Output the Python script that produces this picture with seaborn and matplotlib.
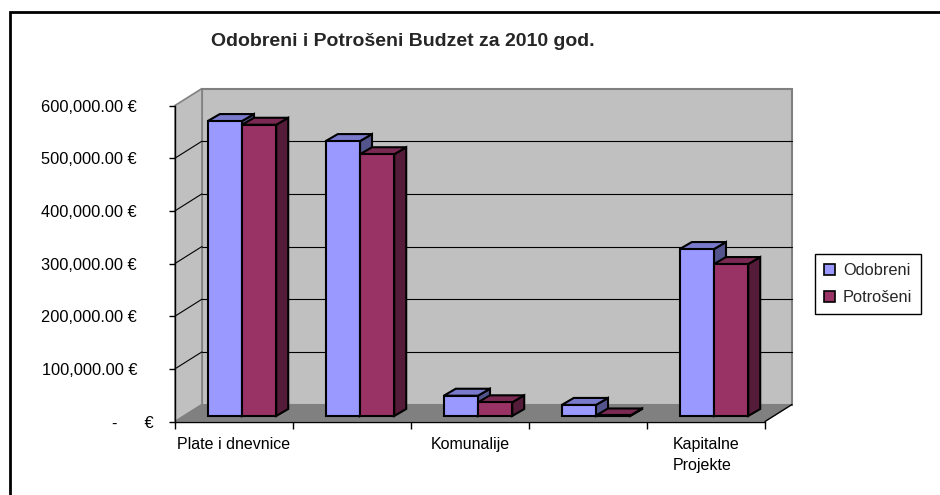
import numpy as np
import pandas as pd
import matplotlib
matplotlib.use("Agg")
import matplotlib.pyplot as plt
import seaborn as sns
from matplotlib.patches import Polygon, Rectangle, Patch
from matplotlib import transforms

# data
categories  = ["Plate i dnevnice", "cat2", "Komunalije", "cat4", "Kapitalne Projekte"]
tick_labels = ["Plate i dnevnice", "", "Komunalije", "", "Kapitalne\nProjekte"]
series      = ["Odobreni", "Potrošeni"]
odobreni    = [560000, 522000, 38500, 21000, 317000]
potroseni   = [553000, 497000, 26000, 1000, 288500]
yticks      = [0, 100000, 200000, 300000, 400000, 500000, 600000]
title       = "Odobreni i Potrošeni Budzet za 2010 god."

COLORS = ["#9999FF", "#993366"]
WALL, FLOOR, EDGE = "#C0C0C0", "#808080", "#808080"

sns.set_theme(style="ticks")
plt.rcParams["font.family"] = ["Liberation Sans", "DejaVu Sans"]

W, H = 940, 495
fig = plt.figure(figsize=(W / 100, H / 100), dpi=100, facecolor="white")
ax = fig.add_axes([175 / W, (H - 421.5) / H, 590 / W, 316 / H])

df = pd.DataFrame({
    "cat":    categories * 2,
    "series": [series[0]] * 5 + [series[1]] * 5,
    "value":  odobreni + potroseni,
})
sns.barplot(data=df, x="cat", y="value", hue="series", order=categories,
            hue_order=series, palette=COLORS, width=0.58, saturation=1,
            edgecolor="black", linewidth=1.5, legend=False, ax=ax)
bars = list(ax.patches)

ax.set_xlim(-0.5, len(categories) - 0.5)
ax.set_ylim(yticks[0], yticks[-1])
ax.set_xlabel(""); ax.set_ylabel("")
ax.patch.set_visible(False)

# pixel offsets -> data units (for the fake 3D depth)
ux = (len(categories)) / ax.bbox.width
uy = (yticks[-1] - yticks[0]) / ax.bbox.height
def off(px, py):
    return px * ux, py * uy

wx, wy = off(27, 17)     # wall depth
sx, sy = off(8, 5.5)     # bar plane inside the box
dx, dy = off(12, 7)      # bar depth

x0, x1, ytop = -0.5, len(categories) - 0.5, yticks[-1]

# back wall, side wall, floor
ax.add_patch(Rectangle((x0 + wx, wy), x1 - x0, ytop, fc=WALL, ec=EDGE,
                       lw=1.5, clip_on=False, zorder=0.5))
ax.add_patch(Polygon([(x0, 0), (x0, ytop), (x0 + wx, ytop + wy), (x0 + wx, wy)],
                     fc=WALL, ec=EDGE, lw=1.2, clip_on=False, zorder=0.5))
ax.add_patch(Polygon([(x0, 0), (x1, 0), (x1 + wx, wy), (x0 + wx, wy)],
                     fc=FLOOR, ec=FLOOR, lw=0.5, clip_on=False, zorder=0.55))
ax.plot([x1, x1 + wx], [0, wy], color="black", lw=1, clip_on=False, zorder=0.6)
for v in yticks[1:-1]:
    ax.plot([x0 + wx, x1 + wx], [v + wy, v + wy], color="black", lw=0.8,
            clip_on=False, zorder=0.6)
    ax.plot([x0, x0 + wx], [v, v + wy], color="black", lw=0.8,
            clip_on=False, zorder=0.6)

# bars: shift into the box and add top / side faces
order = sorted(range(len(bars)), key=lambda i: bars[i].get_x())
for rank, i in enumerate(order):
    p = bars[i]
    x, w, h = p.get_x() + sx, p.get_width(), p.get_height()
    y = sy
    p.set_x(x); p.set_y(y)
    p.set_clip_on(False)
    rgb = np.array(matplotlib.colors.to_rgb(p.get_facecolor()))
    z = 2 + rank
    side = Polygon([(x + w, y), (x + w + dx, y + dy), (x + w + dx, y + h + dy), (x + w, y + h)],
                   fc=rgb * 0.55, ec="black", lw=1.5, clip_on=False, zorder=z)
    top = Polygon([(x, y + h), (x + w, y + h), (x + w + dx, y + h + dy), (x + dx, y + h + dy)],
                  fc=rgb * 0.8, ec="black", lw=1.5, clip_on=False, zorder=z)
    ax.add_patch(side); ax.add_patch(top)
    p.set_zorder(z + 0.5)

# axes, ticks
for s in ["top", "right"]:
    ax.spines[s].set_visible(False)
for s in ["left", "bottom"]:
    ax.spines[s].set_color("black"); ax.spines[s].set_linewidth(1)
    ax.spines[s].set_zorder(1)

ax.set_yticks(yticks)
ax.yaxis.set_major_formatter(matplotlib.ticker.FuncFormatter(
    lambda v, _: "-      €" if v == 0 else f"{v:,.2f} €"))
ax.tick_params(axis="y", length=4.3, width=1, color="black", pad=23,
               labelsize=11.8, labelcolor="black", direction="out")

ax.set_xticks(range(len(categories)))
ax.set_xticklabels(tick_labels)
ax.set_xticks(np.arange(x0, x1 + 0.01, 1), minor=True)
ax.tick_params(axis="x", which="major", length=0, pad=11, labelsize=11.5,
               labelcolor="black")
ax.tick_params(axis="x", which="minor", length=5, width=1, color="black",
               direction="out")
for lbl in ax.get_xticklabels():
    lbl.set_multialignment("left"); lbl.set_linespacing(1.5)

zero = ax.yaxis.get_major_ticks()[0].label1
zero.set_transform(zero.get_transform() +
                   transforms.ScaledTranslation(17 / 100, 0, fig.dpi_scale_trans))

# title, legend, outer frame
fig.text(403 / W, 1 - 42 / H, title, fontsize=14, fontweight="bold",
         ha="center", va="center")

handles = [Patch(fc=c, ec="black", lw=1.2, label=s) for c, s in zip(COLORS, series)]
leg = fig.legend(handles=handles, loc="upper left",
                 bbox_to_anchor=(815 / W, 1 - 254 / H), frameon=True,
                 fancybox=False, shadow=False, framealpha=1, edgecolor="black",
                 fontsize=11.8, handlelength=0.65, handleheight=0.65,
                 handletextpad=0.5, labelspacing=0.75, borderpad=0.55,
                 borderaxespad=0)
leg.get_frame().set_linewidth(1)

fig.add_artist(Rectangle((10 / W, -0.1), 1.5, 1.1 - 12 / H, transform=fig.transFigure,
                         fill=False, ec="black", lw=2))

fig.savefig("out.png", dpi=100)
